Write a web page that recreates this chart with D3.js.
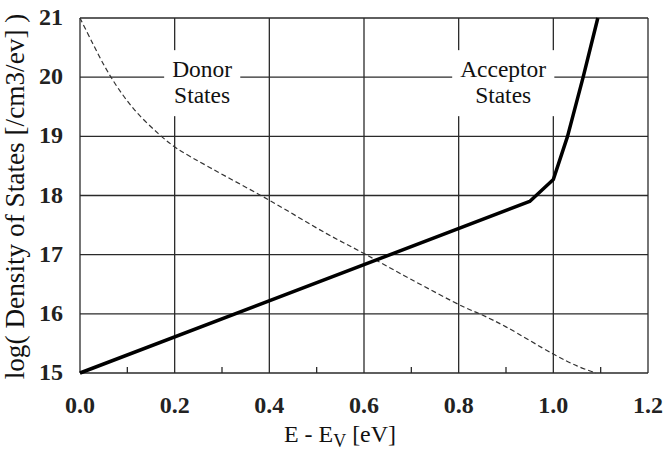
<!DOCTYPE html>
<html>
<head>
<meta charset="utf-8">
<script src="https://cdn.jsdelivr.net/npm/d3@7"></script>
<style>
  html, body { margin: 0; padding: 0; background: #fff; }
  svg { display: block; }
</style>
</head>
<body>
<svg id="chart" width="664" height="450"></svg>
<script>
// values
const donorE = [0, 0.025, 0.053, 0.08, 0.116, 0.165, 0.204, 0.275, 0.4, 0.52, 0.6, 0.7, 0.81, 0.85, 0.9, 1.0, 1.05, 1.09];
const donorLogN = [21, 20.6, 20.17, 19.82, 19.44, 19.05, 18.8, 18.47, 17.92, 17.36, 17.02, 16.58, 16.12, 15.98, 15.78, 15.32, 15.12, 15.0];

const acceptorE = [0, 0.95, 1.0, 1.03, 1.063, 1.094];
const acceptorLogN = [15, 17.9, 18.27, 19, 20, 21];

const xTicks = [0, 0.2, 0.4, 0.6, 0.8, 1.0, 1.2];
const xMinorTicks = [0.1, 0.3, 0.5, 0.7, 0.9, 1.1];
const yTicks = [15, 16, 17, 18, 19, 20, 21];

const labels = [
  { lines: ["Donor", "States"], e: 0.258, v: 20.0 },
  { lines: ["Acceptor", "States"], e: 0.894, v: 20.0 }
];

const serif = "'Liberation Serif', 'Times New Roman', Times, 'DejaVu Serif', serif";

const svg = d3.select("#chart");
const margin = { left: 80, right: 16, top: 18, bottom: 77 };
const W = 664, H = 450;

// shrink/grow font so a string takes the width it has in the scan
function fitSize(sel, base, target) {
  sel.style("font-size", base + "px");
  const w = sel.node().getComputedTextLength();
  const s = w > 0 ? base * target / w : base;
  sel.style("font-size", s + "px");
  return s;
}

const x = d3.scaleLinear().domain([0, 1.2]).range([margin.left, W - margin.right]);
const y = d3.scaleLinear().domain([15, 21]).range([H - margin.bottom, margin.top]);

const grid = svg.append("g").attr("stroke", "#2a2a2a").attr("stroke-width", 1.3);

grid.selectAll("line.v").data(xTicks).join("line")
  .attr("x1", d => x(d)).attr("x2", d => x(d))
  .attr("y1", y(15)).attr("y2", y(21));

grid.selectAll("line.h").data(yTicks).join("line")
  .attr("y1", d => y(d)).attr("y2", d => y(d))
  .attr("x1", x(0)).attr("x2", x(1.2));

// small upward ticks on the bottom axis
grid.selectAll("line.m").data(xMinorTicks).join("line")
  .attr("x1", d => x(d)).attr("x2", d => x(d))
  .attr("y1", y(15)).attr("y2", y(15) - 6);

// probe text to size the label font from the width of "Acceptor" (~87px in the scan)
const probe = svg.append("text").style("font-family", serif).text("Acceptor");
const labelSize = fitSize(probe, 20, 86);
probe.remove();

// text boxes blank out the grid under the labels
const lab = svg.append("g");
labels.forEach(l => {
  const g = lab.append("g");
  const t = g.append("text")
    .attr("text-anchor", "middle")
    .style("font-family", serif)
    .style("font-size", labelSize + "px")
    .attr("fill", "#111");
  l.lines.forEach((s, i) => {
    t.append("tspan").attr("x", x(l.e)).attr("y", y(l.v) + i * 26).text(s);
  });
  const bb = t.node().getBBox();
  g.insert("rect", "text")
    .attr("x", bb.x - 8).attr("y", bb.y - 6)
    .attr("width", bb.width + 16).attr("height", bb.height + 14)
    .attr("fill", "#fff");
});

const donorLine = d3.line().x(d => x(d[0])).y(d => y(d[1])).curve(d3.curveCatmullRom);

svg.append("path")
  .datum(donorE.map((e, i) => [e, donorLogN[i]]))
  .attr("fill", "none")
  .attr("stroke", "#333")
  .attr("stroke-width", 1.2)
  .attr("stroke-dasharray", "5,3")
  .attr("d", donorLine);

svg.append("path")
  .datum(acceptorE.map((e, i) => [e, acceptorLogN[i]]))
  .attr("fill", "none")
  .attr("stroke", "#000")
  .attr("stroke-width", 3.5)
  .attr("stroke-linejoin", "round")
  .attr("d", d3.line().x(d => x(d[0])).y(d => y(d[1])));

// tick labels, sized so "0.0" is ~30px wide like the scan
const tprobe = svg.append("text").style("font-family", serif).style("font-weight", "bold").text("0.0");
const tickSize = fitSize(tprobe, 20, 30);
tprobe.remove();

svg.append("g").selectAll("text").data(xTicks).join("text")
  .attr("x", d => x(d)).attr("y", H - margin.bottom + 40)
  .attr("text-anchor", "middle")
  .style("font-family", serif).style("font-size", tickSize + "px").style("font-weight", "bold")
  .attr("fill", "#222")
  .text(d => d3.format(".1f")(d));

svg.append("g").selectAll("text").data(yTicks).join("text")
  .attr("x", margin.left - 17).attr("y", d => y(d) + 7)
  .attr("text-anchor", "end")
  .style("font-family", serif).style("font-size", tickSize + "px").style("font-weight", "bold")
  .attr("fill", "#222")
  .text(d => d);

// axis titles
const xt = svg.append("text")
  .attr("x", 340).attr("y", H - 8)
  .attr("text-anchor", "middle")
  .style("font-family", serif)
  .attr("fill", "#111");
xt.append("tspan").text("E - E");
const sub = xt.append("tspan").attr("dy", 5).text("V");
xt.append("tspan").attr("dy", -5).text(" [eV]");
const xs = fitSize(xt, 20, 116);
sub.style("font-size", (xs * 0.75) + "px");

const yt = svg.append("text")
  .attr("transform", `translate(24,${(y(15) + y(21)) / 2 + 1}) rotate(-90)`)
  .attr("text-anchor", "middle")
  .style("font-family", serif)
  .attr("fill", "#111")
  .text("log( Density of States [/cm3/ev] )");
fitSize(yt, 20, 366);
</script>
</body>
</html>
